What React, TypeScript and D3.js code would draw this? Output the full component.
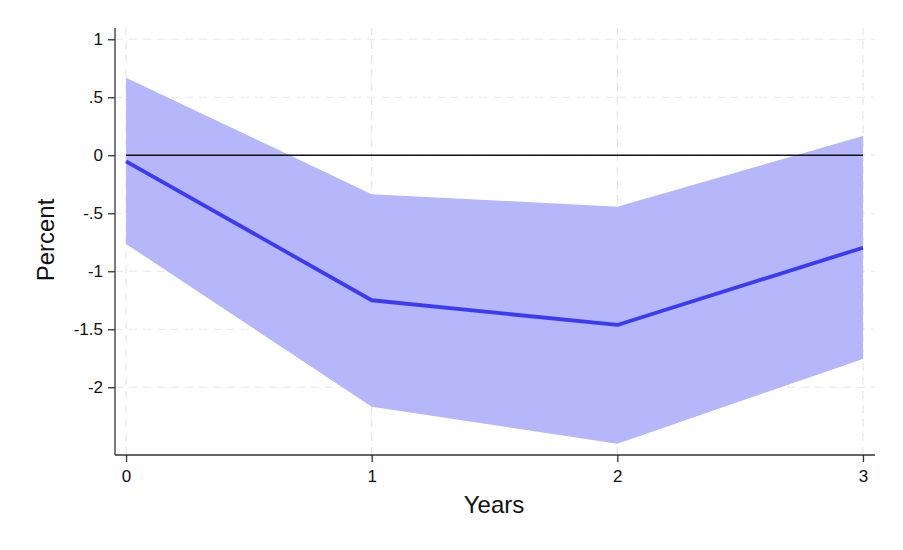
import React, { useEffect, useRef } from 'react'
import * as d3 from 'd3'

// values
const years = [0, 1, 2, 3]
const estimate = [-0.052, -1.25, -1.463, -0.797]
const upperBand = [0.669, -0.336, -0.443, 0.166]
const lowerBand = [-0.765, -2.167, -2.486, -1.756]
const yTicks = [1, 0.5, 0, -0.5, -1, -1.5, -2]
const yTickLabels = ['1', '.5', '0', '-.5', '-1', '-1.5', '-2']
const xTicks = [0, 1, 2, 3]

const W = 903
const H = 550

const App: React.FC = () => {
  const svgRef = useRef<SVGSVGElement>(null)

  useEffect(() => {
    if (!svgRef.current) return
    const svg = d3.select(svgRef.current)
    svg.selectAll('*').remove()

    const font = 'Arial, "Liberation Sans", sans-serif'

    const x = d3.scaleLinear().domain([-0.045, 3.049]).range([115, 875])
    const y = d3.scaleLinear().domain([-2.584, 1.097]).range([455, 28])

    svg.append('rect').attr('width', W).attr('height', H).attr('fill', '#fff')

    // Grid
    svg.append('g')
      .selectAll('line')
      .data(yTicks)
      .enter()
      .append('line')
      .attr('x1', x.range()[0])
      .attr('x2', x.range()[1])
      .attr('y1', d => y(d))
      .attr('y2', d => y(d))
      .attr('stroke', '#e6e6e6')
      .attr('stroke-width', 1.2)
      .attr('stroke-dasharray', '8,6')

    svg.append('g')
      .selectAll('line')
      .data(xTicks)
      .enter()
      .append('line')
      .attr('x1', d => x(d))
      .attr('x2', d => x(d))
      .attr('y1', y.range()[0])
      .attr('y2', y.range()[1])
      .attr('stroke', '#e6e6e6')
      .attr('stroke-width', 1.2)
      .attr('stroke-dasharray', '8,6')

    const rows = years.map((yr, i) => ({ yr, est: estimate[i], lo: lowerBand[i], hi: upperBand[i] }))

    // Confidence band
    const area = d3.area<typeof rows[number]>()
      .x(d => x(d.yr))
      .y0(d => y(d.lo))
      .y1(d => y(d.hi))
    svg.append('path')
      .datum(rows)
      .attr('d', area)
      .attr('fill', '#b6b6fb')

    // Zero line
    svg.append('line')
      .attr('x1', x(0))
      .attr('x2', x(3))
      .attr('y1', y(0))
      .attr('y2', y(0))
      .attr('stroke', '#111')
      .attr('stroke-width', 1.5)

    // Estimate line
    const line = d3.line<typeof rows[number]>()
      .x(d => x(d.yr))
      .y(d => y(d.est))
    svg.append('path')
      .datum(rows)
      .attr('d', line)
      .attr('fill', 'none')
      .attr('stroke', '#3b3bf5')
      .attr('stroke-width', 3.8)
      .attr('stroke-linejoin', 'round')

    // Y axis
    const yAxis = svg.append('g')
      .attr('transform', `translate(${x.range()[0]},0)`)
      .call(d3.axisLeft(y).tickValues(yTicks).tickSize(7).tickPadding(5)
        .tickFormat((_d, i) => yTickLabels[i]))
    yAxis.select('.domain').attr('stroke', '#333').attr('stroke-width', 1.3)
      .attr('d', `M0,${y.range()[0]}V${y.range()[1]}`)
    yAxis.selectAll('line').attr('stroke', '#333').attr('stroke-width', 1.3)
    yAxis.selectAll('text')
      .style('font-family', font)
      .style('font-size', '17px')
      .attr('fill', '#111')

    // X axis
    const xAxis = svg.append('g')
      .attr('transform', `translate(0,${y.range()[0]})`)
      .call(d3.axisBottom(x).tickValues(xTicks).tickSize(7).tickPadding(8)
        .tickFormat(d3.format('d')))
    xAxis.select('.domain').attr('stroke', '#333').attr('stroke-width', 1.3)
      .attr('d', `M${x.range()[0]},0H${x.range()[1]}`)
    xAxis.selectAll('line').attr('stroke', '#333').attr('stroke-width', 1.3)
    xAxis.selectAll('text')
      .style('font-family', font)
      .style('font-size', '17px')
      .attr('fill', '#111')

    // Axis titles
    svg.append('text')
      .attr('x', 494)
      .attr('y', 513)
      .attr('text-anchor', 'middle')
      .style('font-family', font)
      .style('font-size', '24px')
      .attr('fill', '#111')
      .text('Years')

    svg.append('text')
      .attr('transform', 'translate(54,240) rotate(-90)')
      .attr('text-anchor', 'middle')
      .style('font-family', font)
      .style('font-size', '24px')
      .attr('fill', '#111')
      .text('Percent')
  }, [])

  return (
    <svg
      ref={svgRef}
      width={W}
      height={H}
      style={{ position: 'absolute', left: 0, top: 0 }}
    />
  )
}

export default App
